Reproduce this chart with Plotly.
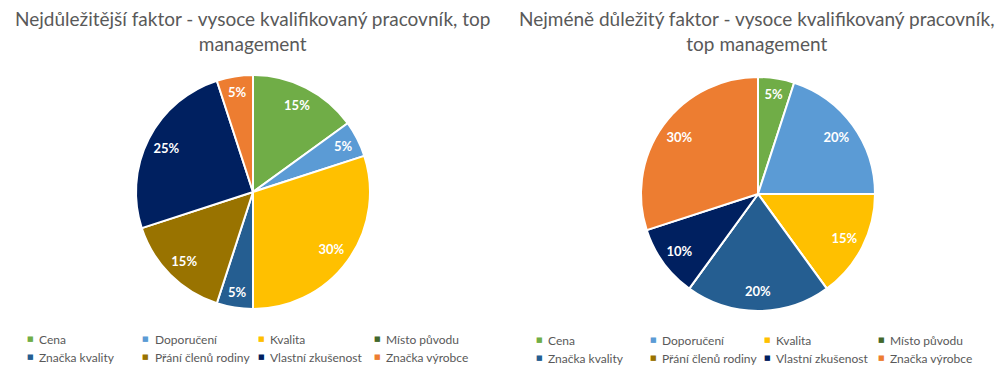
import plotly.graph_objects as go

categories = ["Cena", "Doporučení", "Kvalita", "Místo původu",
              "Značka kvality", "Přání členů rodiny", "Vlastní zkušenost", "Značka výrobce"]
most_important = [15, 5, 30, 0, 5, 15, 25, 5]
least_important = [5, 20, 15, 0, 20, 0, 10, 30]
colors = ["#70AD47", "#5B9BD5", "#FFC000", "#43682B",
          "#255E91", "#997300", "#002060", "#ED7D31"]
titles = ["Nejdůležitější faktor - vysoce kvalifikovaný pracovník, top<br>management",
          "Nejméně důležitý faktor - vysoce kvalifikovaný pracovník,<br>top management"]

W, H = 997, 374
FONT = "Lato"
GREY = "#595959"


def domain(cx, cy, r):
    return dict(x=[(cx - r) / W, (cx + r) / W], y=[1 - (cy + r) / H, 1 - (cy - r) / H])


def pie(values, dom):
    # coloured slices, no text
    return go.Pie(
        labels=categories, values=values, sort=False, direction="clockwise",
        rotation=0, domain=dom, showlegend=False, textinfo="none",
        marker=dict(colors=colors, line=dict(color="white", width=2)),
        hoverinfo="label+value",
    )


def pie_labels(values, dom):
    # transparent ring on top of the pie so the percentages sit near the rim
    return go.Pie(
        labels=categories, values=values, sort=False, direction="clockwise",
        rotation=0, domain=dom, showlegend=False, hole=0.66,
        marker=dict(colors=["rgba(0,0,0,0)"] * len(values), line=dict(width=0)),
        texttemplate=["%{value}%" if v > 0 else "" for v in values],
        textposition="inside", insidetextorientation="horizontal",
        textfont=dict(family=FONT, size=13, color="white", weight="bold"),
        hoverinfo="skip",
    )


left_dom = domain(253, 192, 117)
right_dom = domain(758, 194, 117)

fig = go.Figure()
fig.add_trace(pie(most_important, left_dom))
fig.add_trace(pie(least_important, right_dom))
fig.add_trace(pie_labels(most_important, left_dom))
fig.add_trace(pie_labels(least_important, right_dom))

for t, cx in zip(titles, [252, 757]):
    fig.add_annotation(text=t, x=cx / W, y=1 - 5 / H, xref="paper", yref="paper",
                       xanchor="center", yanchor="top", showarrow=False,
                       font=dict(family=FONT, size=19, color=GREY))


def legend(x0, step, rows_y):
    """Four-column, two-row legend below a pie: small colour square + label."""
    for i, (cat, col) in enumerate(zip(categories, colors)):
        tx = x0 + (i % 4) * step
        ty = rows_y[i // 4]
        fig.add_annotation(text="■", x=(tx - 7) / W, y=1 - ty / H, xref="paper", yref="paper",
                           xanchor="center", yanchor="middle", showarrow=False,
                           font=dict(family="DejaVu Sans", size=7, color=col))
        fig.add_annotation(text=cat, x=tx / W, y=1 - ty / H, xref="paper", yref="paper",
                           xanchor="left", yanchor="middle", showarrow=False,
                           font=dict(family=FONT, size=12, color=GREY))


legend(37, 115.7, [339, 357])
legend(546, 114, [340, 358])

fig.update_layout(
    width=W, height=H, margin=dict(l=0, r=0, t=0, b=0),
    paper_bgcolor="white", plot_bgcolor="white",
    uniformtext=dict(minsize=13, mode="show"),
)

fig.write_html("out.html")
